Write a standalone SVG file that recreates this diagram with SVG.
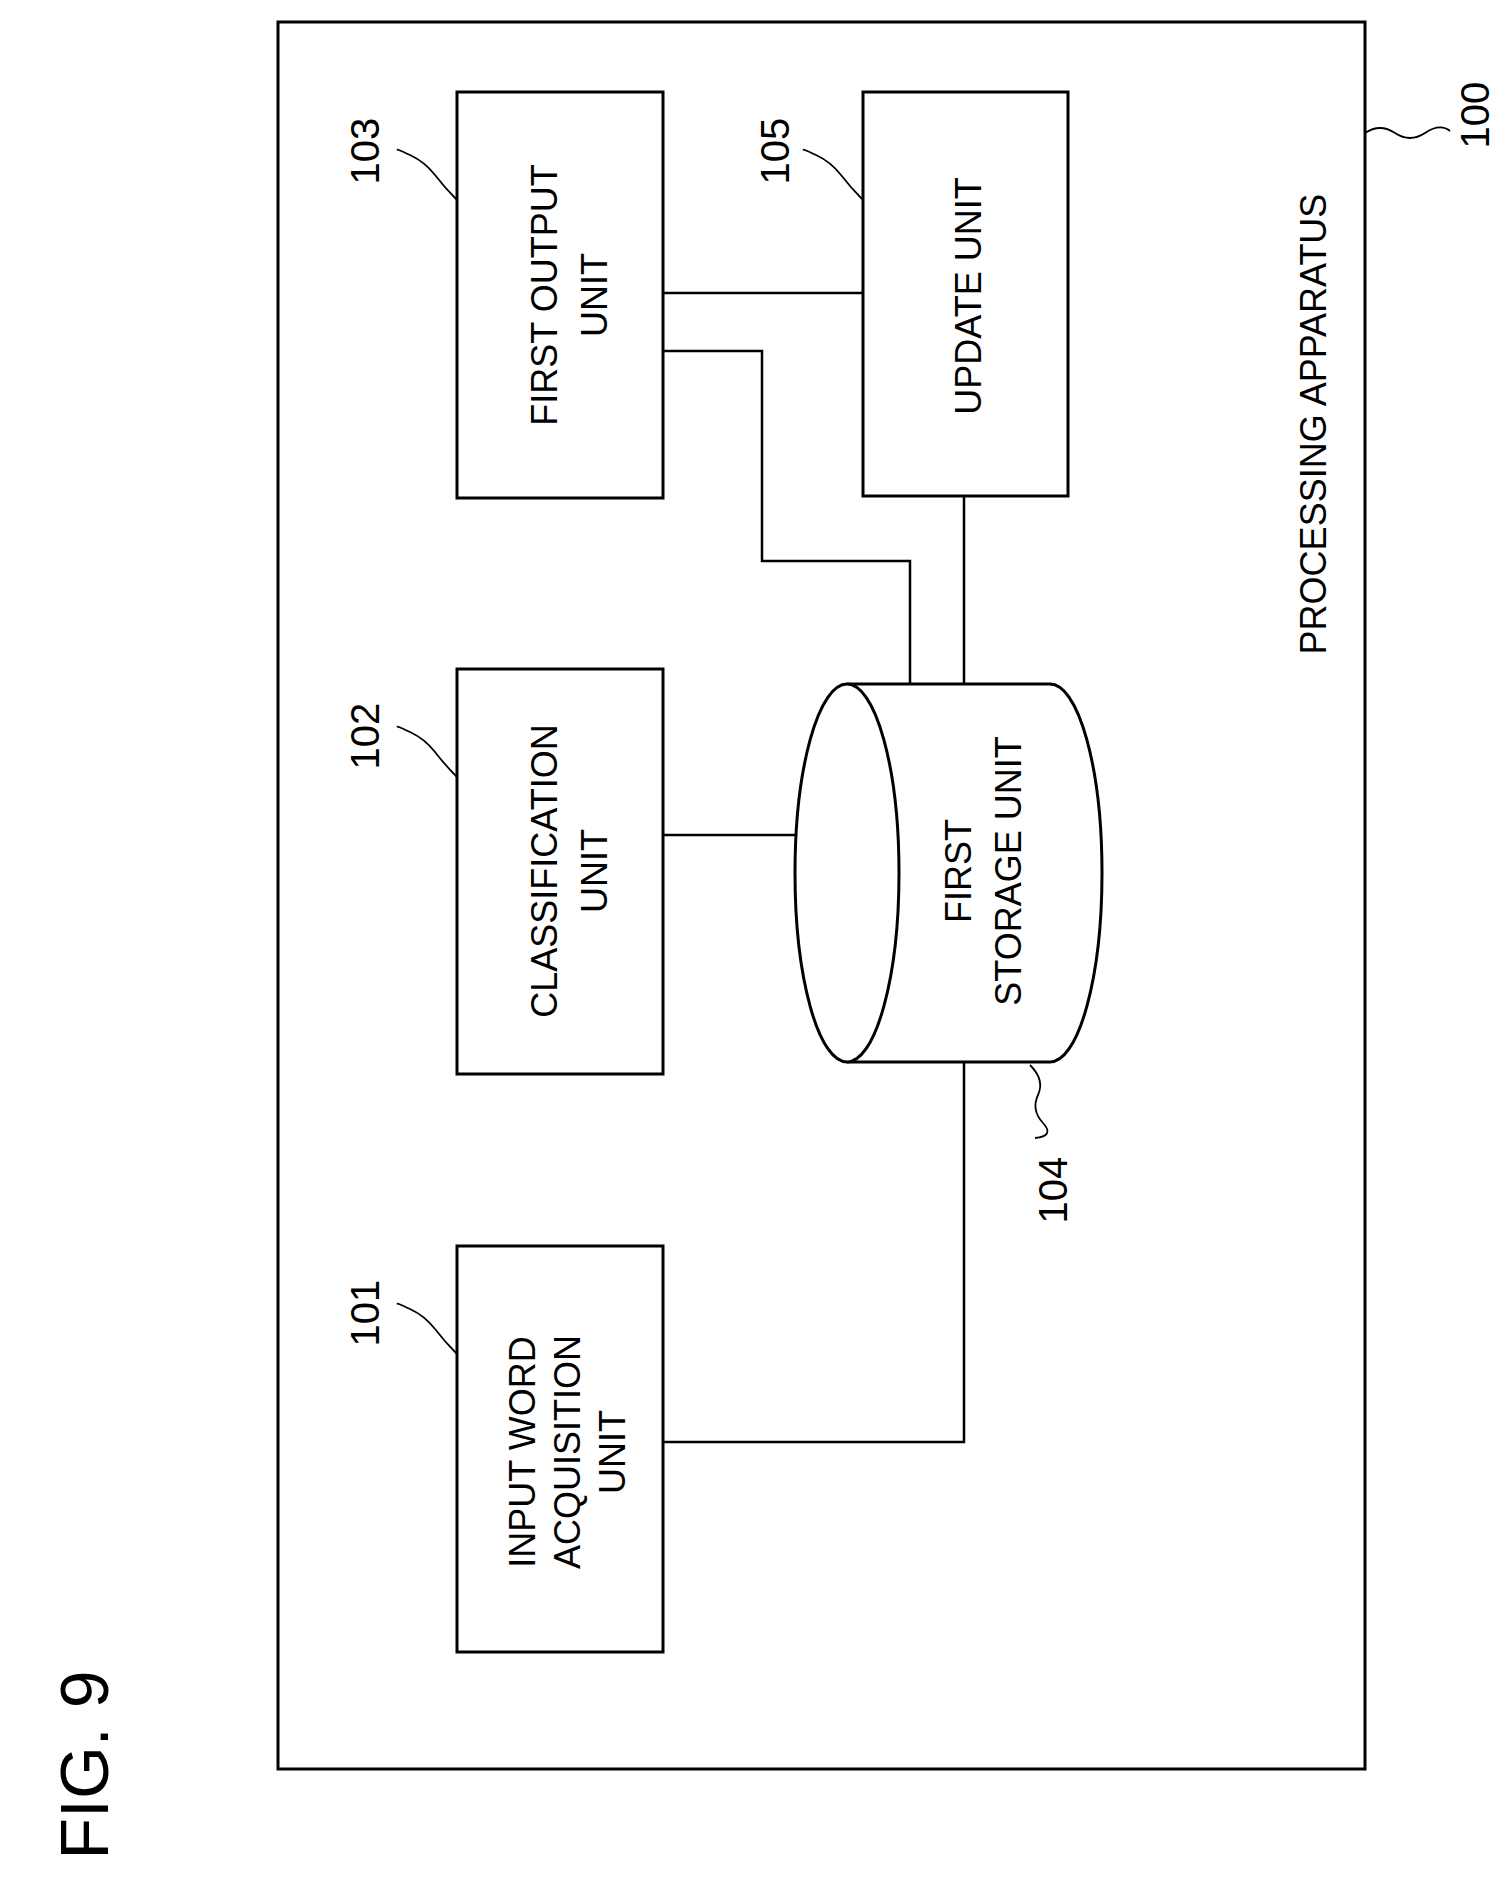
<svg xmlns="http://www.w3.org/2000/svg" width="1511" height="1890" viewBox="0 0 1511 1890">
<style>
.b{fill:#fff;stroke:#000;stroke-width:3}
.l{fill:none;stroke:#000;stroke-width:2.5}
.s{fill:none;stroke:#000;stroke-width:1.8}
text{font-family:"Liberation Sans",Arial,sans-serif;font-size:36px;fill:#000;text-anchor:middle;dominant-baseline:central}
.r{font-size:40px}
.f{font-size:68px}
</style>
<rect width="1511" height="1890" fill="#fff"/>
<text class="f" transform="translate(84,1765) rotate(-90)">FIG. 9</text>
<g id="n100">
<rect class="b" x="278" y="22" width="1087" height="1747"/>
<text transform="translate(1313,424) rotate(-90)">PROCESSING APPARATUS</text>
<path class="s" d="M1365,133 q15,-10 30,0 t30,0 t25,-2"/>
<text class="r" transform="translate(1475,115) rotate(-90)">100</text>
</g>
<g id="connectors">
<path class="l" d="M663,293 H863"/>
<path class="l" d="M663,351 H762 V561 H910 V684"/>
<path class="l" d="M964,496 V684"/>
<path class="l" d="M663,835 H795"/>
<path class="l" d="M663,1442 H964 V1062"/>
</g>
<g id="n103">
<rect class="b" x="457" y="92" width="206" height="406"/>
<text transform="translate(544,295) rotate(-90)">FIRST OUTPUT</text>
<text transform="translate(594,295) rotate(-90)">UNIT</text>
<path class="s" d="M457,200 q-12,-12 -22,-25 t-25,-20 t-12,-5"/>
<text class="r" transform="translate(365,151) rotate(-90)">103</text>
</g>
<g id="n105">
<rect class="b" x="863" y="92" width="205" height="404"/>
<text transform="translate(968,296) rotate(-90)">UPDATE UNIT</text>
<path class="s" d="M863,200 q-12,-12 -22,-25 t-25,-20 t-12,-5"/>
<text class="r" transform="translate(775,151) rotate(-90)">105</text>
</g>
<g id="n102">
<rect class="b" x="457" y="669" width="206" height="405"/>
<text transform="translate(544,871) rotate(-90)">CLASSIFICATION</text>
<text transform="translate(594,871) rotate(-90)">UNIT</text>
<path class="s" d="M457,777 q-12,-12 -22,-25 t-25,-20 t-12,-5"/>
<text class="r" transform="translate(365,736) rotate(-90)">102</text>
</g>
<g id="n101">
<rect class="b" x="457" y="1246" width="206" height="406"/>
<text transform="translate(522,1452) rotate(-90)">INPUT WORD</text>
<text transform="translate(567,1452) rotate(-90)">ACQUISITION</text>
<text transform="translate(612,1452) rotate(-90)">UNIT</text>
<path class="s" d="M457,1354 q-12,-12 -22,-25 t-25,-20 t-12,-5"/>
<text class="r" transform="translate(365,1313) rotate(-90)">101</text>
</g>
<g id="n104">
<path class="b" d="M847,684 H1050 A52,189 0 0 1 1050,1062 H847"/>
<ellipse class="b" cx="847" cy="873" rx="52" ry="189"/>
<text transform="translate(958,871) rotate(-90)">FIRST</text>
<text transform="translate(1008,871) rotate(-90)">STORAGE UNIT</text>
<path class="s" d="M1030,1065 q15,15 8,30 t5,28 t-8,15"/>
<text class="r" transform="translate(1053,1190) rotate(-90)">104</text>
</g>
</svg>
